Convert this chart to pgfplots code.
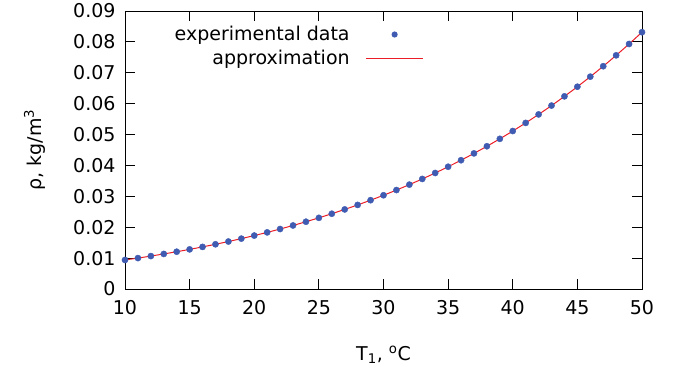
\documentclass[border=0pt]{standalone}
\usepackage{pgfplots}
\pgfplotsset{compat=1.18}
\usepackage{fontspec}
\setmainfont{DejaVu Sans}
\definecolor{dotblue}{RGB}{64,92,178}
\definecolor{linered}{RGB}{235,30,40}
\pgfplotstableread{
T rho
10 0.00940
11 0.01001
12 0.01066
13 0.01135
14 0.01207
15 0.01283
16 0.01363
17 0.01448
18 0.01537
19 0.01631
20 0.01730
21 0.01833
22 0.01942
23 0.02057
24 0.02178
25 0.02304
26 0.02437
27 0.02576
28 0.02722
29 0.02875
30 0.03035
31 0.03203
32 0.03379
33 0.03563
34 0.03756
35 0.03958
36 0.04169
37 0.04390
38 0.04621
39 0.04862
40 0.05114
41 0.05377
42 0.05652
43 0.05938
44 0.06237
45 0.06549
46 0.06874
47 0.07212
48 0.07565
49 0.07932
50 0.08314
}\datatable
\newcommand\fs{\fontsize{19bp}{22bp}\selectfont}
\pgfplotsset{
  dotlegend/.style={legend image code/.code={\path[draw=none,fill=none] (0bp,-1bp) rectangle (57bp,1bp); \path[fill=dotblue,draw=none] (28.5bp,0bp) circle (3.1bp);}},
  linelegend/.style={legend image code/.code={\path[draw=linered, line width=1bp] (0bp,0bp) -- (57bp,0bp);}},
}
\begin{document}
\begin{tikzpicture}
\useasboundingbox (-125bp,-79bp) rectangle (550bp,289bp);
\begin{axis}[
  scale only axis,
  width=517bp, height=278bp,
  xmin=10, xmax=50, ymin=0, ymax=0.09,
  xtick={10,15,...,50},
  ytick={0,0.01,...,0.09},
  yticklabels={0,0.01,0.02,0.03,0.04,0.05,0.06,0.07,0.08,0.09},
  scaled y ticks=false,
  /pgf/number format/assume math mode=true,
  tick label style={font=\fs},
  label style={font=\fs},
  major tick length=10bp,
  tick style={black, line width=0.8bp},
  axis line style={line width=0.9bp},
  xtick align=inside, ytick align=inside,
  xticklabel style={yshift=-8bp},
  yticklabel style={xshift=-6bp},
  xlabel={T\textsubscript{1}, \textsuperscript{o}C},
  ylabel={ρ, kg/m\textsuperscript{3}},
  xlabel style={yshift=-24bp},
  ylabel style={yshift=21bp},
  legend style={draw=none, fill=none, at={(0.578,0.952)}, anchor=north east,
    inner sep=0pt, font=\fs, row sep=4bp,
    /tikz/every odd column/.style={column sep=14bp}},
  legend cell align=right,
  legend plot pos=right,
]
\addplot[only marks, mark=*, mark size=3.1bp, color=dotblue, dotlegend]
  table[x=T,y=rho]{\datatable};
\addlegendentry{experimental data}
\addplot[linered, line width=1bp, smooth, linelegend]
  table[x=T,y=rho]{\datatable};
\addlegendentry{approximation}
\end{axis}
\end{tikzpicture}
\end{document}
